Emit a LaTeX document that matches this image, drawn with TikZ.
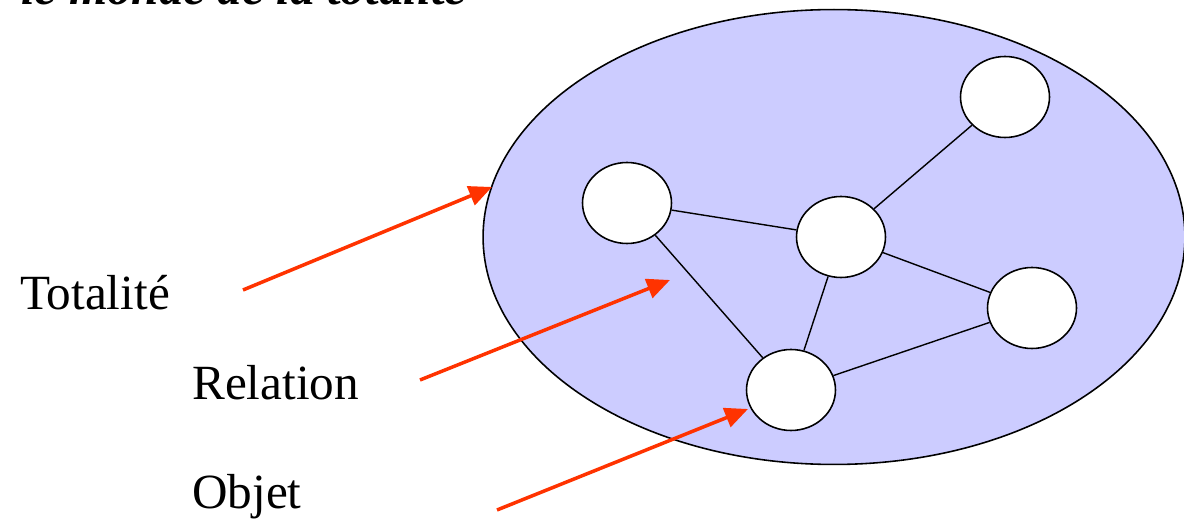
\documentclass[tikz,border=0pt]{standalone}
\usepackage{fontspec}
\setmainfont{Liberation Serif}
\usetikzlibrary{arrows.meta,shapes.geometric}
\definecolor{fondmonde}{HTML}{CCCCFF}
\definecolor{fleche}{HTML}{FF3300}
\tikzset{
  objet/.style={ellipse, draw, fill=white, line width=0.9pt, minimum width=1.78cm, minimum height=1.62cm, inner sep=0pt},
  lien/.style={line width=0.8pt},
  pointe/.style={->, draw=fleche, line width=2pt},
  etiquette/.style={font=\fontsize{28}{34}\selectfont, anchor=west}
}
\begin{document}
\begin{tikzpicture}[>={Triangle[length=4.6mm,width=4mm]}, x=0.02cm, y=-0.02cm]
		\useasboundingbox (0,0) rectangle (1184,523);
		\node (monde) [ellipse, draw, fill=fondmonde, line width=0.9pt, minimum width=14.04cm, minimum height=9.1cm] at (834,237) {};
		\node (titre) [anchor=base west, font=\fontsize{28}{34}\selectfont\itshape\bfseries] at (15,5) {le monde de la totalité};
		% les objets
		\node (A) [objet] at (627,203) {};
		\node (B) [objet] at (841,237) {};
		\node (C) [objet] at (1005,97) {};
		\node (D) [objet] at (1032,308) {};
		\node (E) [objet] at (791,390) {};
		% les relations
		\draw[lien] (A) -- (B);
		\draw[lien] (A) -- (E);
		\draw[lien] (B) -- (C);
		\draw[lien] (B) -- (D);
		\draw[lien] (B) -- (E);
		\draw[lien] (E) -- (D);
		% les etiquettes
		\node (tot) [etiquette] at (14,293) {Totalité};
		\node (rel) [etiquette] at (186,383) {Relation};
		\node (obj) [etiquette] at (186,497) {Objet};
		\coordinate (tot1) at (243,290);
		\coordinate (tot2) at (492,187);
		\coordinate (rel1) at (420,380);
		\coordinate (rel2) at (670,280);
		\coordinate (obj1) at (497,510);
		\coordinate (obj2) at (748,409);
		\draw[pointe] (tot1) -- (tot2);
		\draw[pointe] (rel1) -- (rel2);
		\draw[pointe] (obj1) -- (obj2);
	\end{tikzpicture}
\end{document}
